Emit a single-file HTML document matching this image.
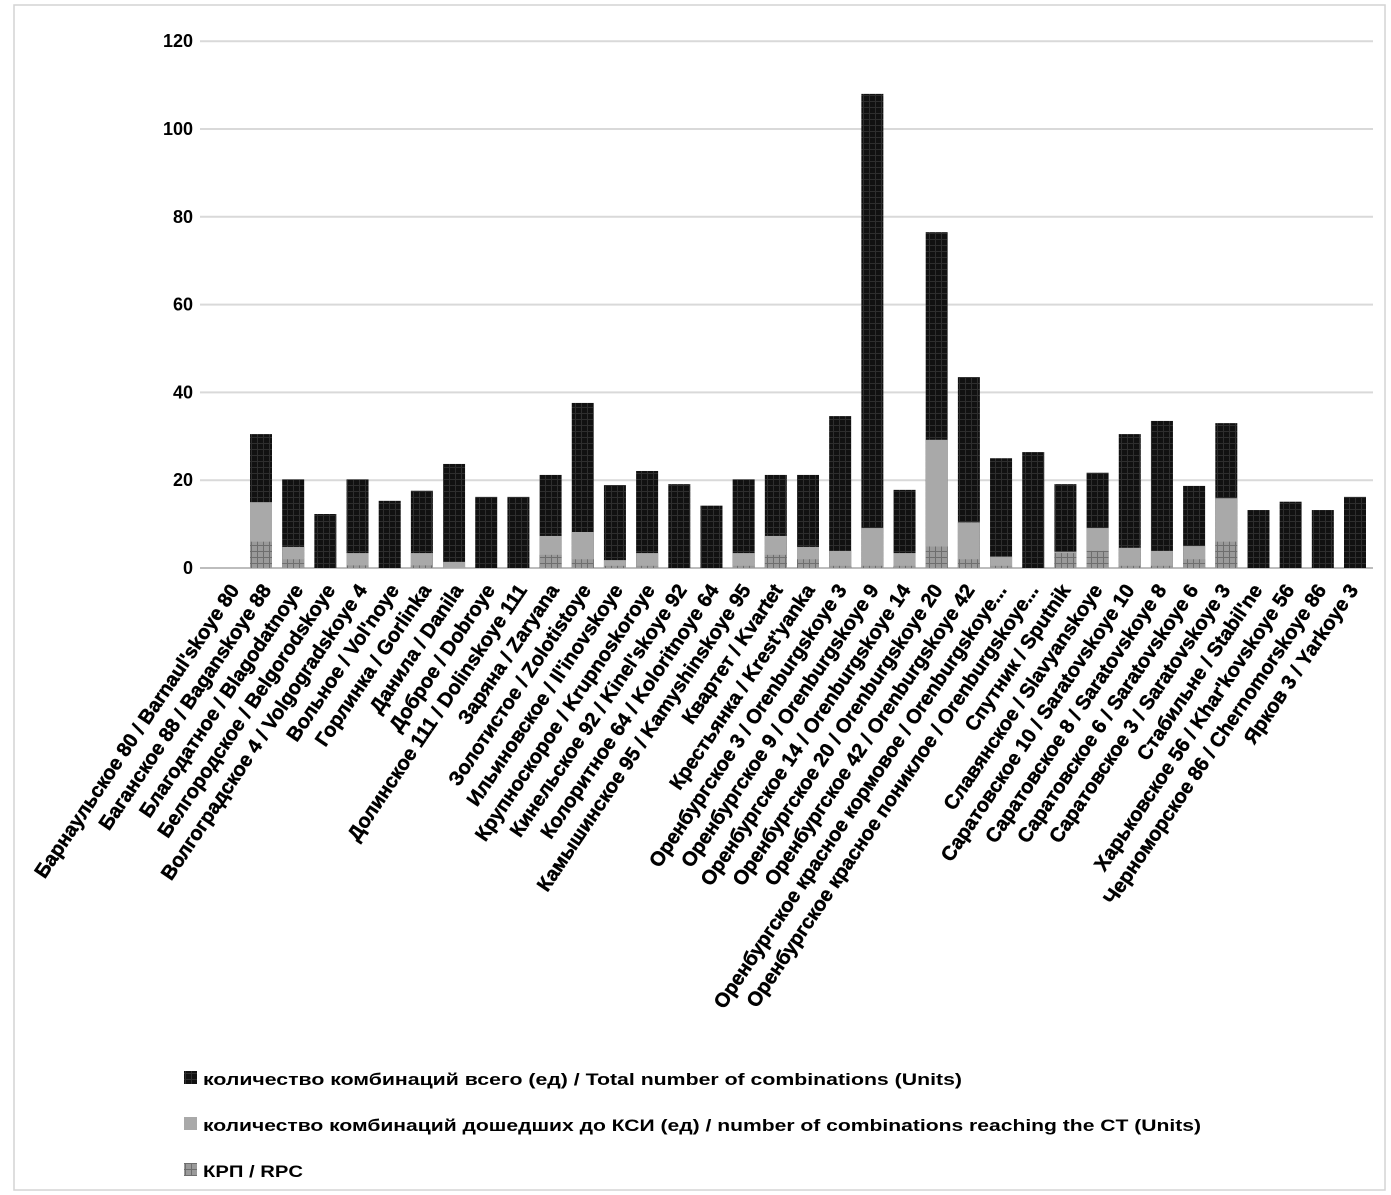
<!DOCTYPE html>
<html><head><meta charset="utf-8"><style>
html,body{margin:0;padding:0;background:#fff;}
svg{display:block;}
text{font-family:"Liberation Sans","Noto Sans CJK SC",sans-serif;font-weight:bold;fill:#000;}
</style></head><body>
<svg id="chart" width="1391" height="1195" viewBox="0 0 1391 1195" xmlns="http://www.w3.org/2000/svg">
<defs>
<pattern id="pBlack" width="6" height="6" patternUnits="userSpaceOnUse"><rect width="6" height="6" fill="#111"/><path d="M0 5.5H6M5.5 0V6" stroke="#2e2e2e" stroke-width="1"/></pattern>
<pattern id="pGrey" width="6" height="6" patternUnits="userSpaceOnUse"><rect width="6" height="6" fill="#a9a9a9"/></pattern>
<pattern id="pKrp" width="6" height="6" patternUnits="userSpaceOnUse"><rect width="6" height="6" fill="#9a9a9a"/><path d="M0 5.5H6M5.5 0V6" stroke="#6e6e6e" stroke-width="1"/></pattern>
</defs>
<rect x="14" y="5" width="1371" height="1185" fill="none" stroke="#d4d4d4" stroke-width="1.5"/>
<g id="grid"></g><g id="bars"></g><g id="xlabels"></g>
<g>
<rect x="184" y="1071" width="13" height="13" fill="url(#pBlack)"/>
<text x="203" y="1085" font-size="17" textLength="759" lengthAdjust="spacingAndGlyphs">количество комбинаций всего (ед) / Total number of combinations (Units)</text>
<rect x="184" y="1117" width="13" height="13" fill="#a9a9a9"/>
<text x="203" y="1131" font-size="17" textLength="998" lengthAdjust="spacingAndGlyphs">количество комбинаций дошедших до КСИ (ед) / number of combinations reaching the CT (Units)</text>
<rect x="184" y="1163" width="13" height="13" fill="url(#pKrp)"/>
<text x="203" y="1177" font-size="17" textLength="100" lengthAdjust="spacingAndGlyphs">КРП / RPC</text>
</g>
</svg>
<script>
const categories = ["Барнаульское 80 / Barnaul'skoye 80","Баганское 88 / Baganskoye 88","Благодатное / Blagodatnoye","Белгородское / Belgorodskoye","Волгоградское 4 / Volgogradskoye 4","Вольное / Vol'noye","Горлинка / Gorlinka","Данила / Danila","Доброе / Dobroye","Долинское 111 / Dolinskoye 111","Заряна / Zaryana","Золотистое / Zolotistoye","Ильиновское / Il'inovskoye","Крупноскорое / Krupnoskoroye","Кинельское 92 / Kinel'skoye 92","Колоритное 64 / Koloritnoye 64","Камышинское 95 / Kamyshinskoye 95","Квартет / Kvartet","Крестьянка / Krest'yanka","Оренбургское 3 / Orenburgskoye 3","Оренбургское 9 / Orenburgskoye 9","Оренбургское 14 / Orenburgskoye 14","Оренбургское 20 / Orenburgskoye 20","Оренбургское 42 / Orenburgskoye 42","Оренбургское красное кормовое / Orenburgskoye...","Оренбургское красное пониклое / Orenburgskoye...","Спутник / Sputnik","Славянское / Slavyanskoye","Саратовское 10 / Saratovskoye 10","Саратовское 8 / Saratovskoye 8","Саратовское 6 / Saratovskoye 6","Саратовское 3 / Saratovskoye 3","Стабильне / Stabil'ne","Харьковское 56 / Khar'kovskoye 56","Черноморское 86 / Chernomorskoye 86","Ярков 3 / Yarkoye 3"];
const totalValues = [30.5,20.2,12.3,20.2,15.3,17.6,23.7,16.2,16.2,21.2,37.6,18.9,22.1,19.1,14.2,20.2,21.2,21.2,34.6,108,17.8,76.5,43.5,25,26.4,19.1,21.7,30.5,33.5,18.7,33,13.2,15.1,13.2,16.2];
const ctValues = [15,4.8,0,3.4,0,3.4,1.4,0,0,7.3,8.2,1.8,3.4,0,0,3.4,7.3,4.8,3.9,9.1,3.4,29.2,10.4,2.6,0,3.7,9.1,4.6,3.9,5,15.9,0,0,0,0];
const rpcValues = [6,2,0,0.6,0,0.6,0,0,0,3,2,0.5,0.5,0,0,0.5,3,2,0.5,0.5,0.5,4.9,2,0.5,0,3.4,3.9,0.5,0.5,2,6,0,0,0,0];
const yTicks = [0,20,40,60,80,100,120];

const NS = "http://www.w3.org/2000/svg";
const y0 = 568, kY = 4.39;
function yScale(v){ return y0 - v*kY; }
const barStart = 261, barStep = (1355-261)/34, barW = 22;
function xScale(i){ return barStart + i*barStep; }
const labStart = 240, labStep = (1359-240)/35;
function labX(i){ return labStart + i*labStep; }

const grid = document.getElementById('grid');
yTicks.forEach(t=>{
  const l = document.createElementNS(NS,'line');
  l.setAttribute('x1',200); l.setAttribute('x2',1373);
  l.setAttribute('y1',yScale(t)); l.setAttribute('y2',yScale(t));
  l.setAttribute('stroke', t===0 ? '#bdbdbd' : '#d9d9d9'); l.setAttribute('stroke-width', 2);
  
  
  grid.appendChild(l);
  const tx = document.createElementNS(NS,'text');
  tx.setAttribute('x',193); tx.setAttribute('y',yScale(t)+6);
  tx.setAttribute('text-anchor','end'); tx.setAttribute('font-size','18');
  tx.textContent = t;
  
  
  grid.appendChild(tx);
});

const bars = document.getElementById('bars');
function addRect(x,v0,v1,fill,name){
  if (v1<=v0) return;
  const r = document.createElementNS(NS,'rect');
  r.setAttribute('x',x); r.setAttribute('width',barW);
  r.setAttribute('y',yScale(v1)); r.setAttribute('height',yScale(v0)-yScale(v1));
  r.setAttribute('fill',fill);
  
  
  bars.appendChild(r);
}
totalValues.forEach((tv,i)=>{
  const x = xScale(i) - barW/2;
  addRect(x, 0, tv, 'url(#pBlack)', 'bar-total-' + (i+1));
  addRect(x, 0, ctValues[i], 'url(#pGrey)', 'bar-ct-' + (i+1));
  addRect(x, 0, rpcValues[i], 'url(#pKrp)', 'bar-rpc-' + (i+1));
});

const xl = document.getElementById('xlabels');
categories.forEach((c,i)=>{
  const t = document.createElementNS(NS,'text');
  const x = labX(i), y = 590;
  t.setAttribute('x',x); t.setAttribute('y',y);
  t.setAttribute('text-anchor','end'); t.setAttribute('font-size','20');
  t.setAttribute('stroke','#000'); t.setAttribute('stroke-width','0.5');
  t.setAttribute('transform','rotate(-56 '+x+' '+y+')');
  t.textContent = c;
  
  
  xl.appendChild(t);
});
</script>
</body></html>
